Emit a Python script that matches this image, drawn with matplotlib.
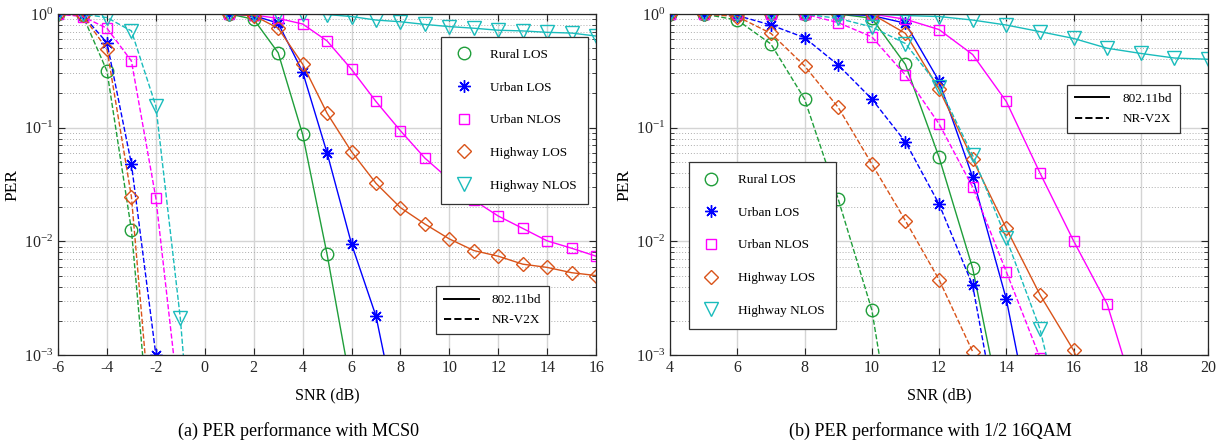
import numpy as np
import matplotlib.pyplot as plt
from matplotlib.lines import Line2D
from matplotlib.ticker import LogLocator, NullFormatter

plt.rcParams["font.family"] = ["Liberation Serif", "DejaVu Serif"]
plt.rcParams["mathtext.fontset"] = "stix"

# ---- (a) MCS0 ----
snr_a_nr = [-6, -5, -4, -3, -2, -1, 0]
snr_a_bd = [1, 2, 3, 4, 5, 6, 7, 8, 9, 10, 11, 12, 13, 14, 15, 16]

a_nr_rural_los = [1.0, 0.98, 0.315, 0.0126, 5e-5, np.nan, np.nan]
a_nr_urban_los = [1.0, 0.98, 0.56, 0.048, 1.0e-3, 1e-5, np.nan]
a_nr_urban_nlos = [1.0, 0.95, 0.75, 0.386, 0.024, 3e-4, np.nan]
a_nr_highway_los = [1.0, 0.98, 0.49, 0.0247, 8e-5, np.nan, np.nan]
a_nr_highway_nlos = [1.0, 1.0, 0.93, 0.71, 0.155, 0.0021, 5e-6]

a_bd_rural_los = [1.0, 0.9, 0.456, 0.0875, 0.0077, 5e-4, np.nan, np.nan,
                  np.nan, np.nan, np.nan, np.nan, np.nan, np.nan, np.nan, np.nan]
a_bd_urban_los = [1.0, 0.97, 0.83, 0.31, 0.06, 0.0095, 0.0022, 2e-4,
                  np.nan, np.nan, np.nan, np.nan, np.nan, np.nan, np.nan, np.nan]
a_bd_urban_nlos = [1.0, 0.98, 0.916, 0.817, 0.58, 0.326, 0.17, 0.094,
                   0.054, 0.035, 0.023, 0.0167, 0.013, 0.0101, 0.0087, 0.0074]
a_bd_highway_los = [1.0, 0.97, 0.75, 0.363, 0.134, 0.0615, 0.0324, 0.0198,
                    0.0142, 0.0105, 0.0083, 0.0074, 0.0063, 0.0059, 0.0053, 0.005]
a_bd_highway_nlos = [1.0, 1.0, 1.0, 1.0, 0.99, 0.95, 0.885, 0.855,
                     0.81, 0.775, 0.75, 0.72, 0.71, 0.69, 0.68, 0.64]

# ---- (b) 1/2 16QAM ----
snr_b = [4, 5, 6, 7, 8, 9, 10, 11, 12, 13, 14, 15, 16, 17, 18, 19, 20]

b_nr_rural_los = [1.0, 1.0, 0.885, 0.545, 0.179, 0.0236, 0.0025, 4e-5,
                  np.nan, np.nan, np.nan, np.nan, np.nan, np.nan, np.nan, np.nan, np.nan]
b_nr_urban_los = [1.0, 1.0, 0.97, 0.8, 0.62, 0.356, 0.179, 0.075, 0.0213,
                  0.0041, 1e-4, np.nan, np.nan, np.nan, np.nan, np.nan, np.nan]
b_nr_urban_nlos = [1.0, 1.0, 1.0, 1.0, 1.0, 0.84, 0.63, 0.29, 0.108,
                   0.03, 0.0054, 9.5e-4, np.nan, np.nan, np.nan, np.nan, np.nan]
b_nr_highway_los = [1.0, 1.0, 0.95, 0.676, 0.35, 0.151, 0.048, 0.0152, 0.0046,
                    0.00107, np.nan, np.nan, np.nan, np.nan, np.nan, np.nan, np.nan]
b_nr_highway_nlos = [1.0, 1.0, 1.0, 1.0, 1.0, 0.915, 0.77, 0.55, 0.23,
                     0.057, 0.0106, 0.0017, 1e-4, np.nan, np.nan, np.nan, np.nan]

b_bd_rural_los = [1.0, 1.0, 1.0, 1.0, 1.0, 1.0, 0.92, 0.36, 0.055, 0.0058,
                  2e-4, np.nan, np.nan, np.nan, np.nan, np.nan, np.nan]
b_bd_urban_los = [1.0, 1.0, 1.0, 1.0, 1.0, 1.0, 0.97, 0.83, 0.257, 0.0366,
                  0.0031, 1e-4, np.nan, np.nan, np.nan, np.nan, np.nan]
b_bd_urban_nlos = [1.0, 1.0, 1.0, 1.0, 1.0, 1.0, 1.0, 0.9, 0.73, 0.44,
                   0.17, 0.04, 0.0101, 0.0028, 3e-4, np.nan, np.nan]
b_bd_highway_los = [1.0, 1.0, 1.0, 1.0, 1.0, 1.0, 1.0, 0.676, 0.218, 0.0527,
                    0.013, 0.0034, 0.0011, 2e-4, np.nan, np.nan, np.nan]
b_bd_highway_nlos = [1.0, 1.0, 1.0, 1.0, 1.0, 1.0, 1.0, 0.97, 0.95, 0.885,
                     0.8, 0.7, 0.61, 0.5, 0.45, 0.41, 0.4]

scenarios = ["Rural LOS", "Urban LOS", "Urban NLOS", "Highway LOS", "Highway NLOS"]
colors = ["#1f9e3a", "#0000ff", "#ff00ff", "#d95319", "#19bcbc"]
markers = ["o", (8, 2, 0), "s", "D", "v"]
msizes = [9, 9, 7.5, 7.5, 9.5]


def style_axes(ax, xlim, xticks):
    ax.set_yscale("log")
    ax.set_xlim(*xlim)
    ax.set_ylim(1e-3, 1)
    ax.set_xticks(xticks)
    ax.set_xticklabels([str(t) for t in xticks])
    ax.yaxis.set_major_locator(LogLocator(base=10, numticks=10))
    ax.yaxis.set_minor_locator(LogLocator(base=10, subs=np.arange(2, 10), numticks=10))
    ax.yaxis.set_minor_formatter(NullFormatter())
    ax.grid(True, which="major", color="0.83", linewidth=1.0, linestyle="-")
    ax.grid(True, which="minor", axis="y", color="0.68", linewidth=0.7, linestyle=(0, (1, 2)))
    ax.set_axisbelow(True)
    ax.tick_params(which="both", direction="in", top=True, right=True,
                   labelsize=11.5, colors="0.15")
    ax.tick_params(which="major", length=5)
    ax.tick_params(which="minor", length=3)
    for s in ax.spines.values():
        s.set_color("0.15")
        s.set_linewidth(0.9)
    ax.set_xlabel("SNR (dB)", fontsize=11.5, labelpad=8)
    ax.set_ylabel("PER", fontsize=12.5, labelpad=2)


def plot_set(ax, x, series, ls):
    for y, c, m, ms in zip(series, colors, markers, msizes):
        ax.plot(x, y, color=c, linestyle=ls, linewidth=1.0, marker=m,
                markersize=ms, markerfacecolor="none", markeredgecolor=c,
                markeredgewidth=1.0)


def add_legends(ax, loc1, loc2):
    mh = [Line2D([], [], linestyle="none", marker=m, markersize=ms,
                 markerfacecolor="none", markeredgecolor=c, markeredgewidth=1.0)
          for c, m, ms in zip(colors, markers, msizes)]
    leg1 = ax.legend(mh, scenarios, loc="upper left", bbox_to_anchor=loc1,
                     fontsize=9.5, labelspacing=1.55, handlelength=1.6,
                     handletextpad=1.2, borderpad=0.9, fancybox=False,
                     edgecolor="0.2", framealpha=1, borderaxespad=0)
    leg1.get_frame().set_linewidth(0.9)
    ax.add_artist(leg1)
    lh = [Line2D([], [], color="k", linestyle="-", linewidth=1.4),
          Line2D([], [], color="k", linestyle="--", linewidth=1.4)]
    leg2 = ax.legend(lh, ["802.11bd", "NR-V2X"], loc="upper left",
                     bbox_to_anchor=loc2, fontsize=9.5, labelspacing=0.6,
                     handlelength=2.6, handletextpad=1.0, borderpad=0.6,
                     fancybox=False, edgecolor="0.2", framealpha=1,
                     borderaxespad=0)
    leg2.get_frame().set_linewidth(0.9)


fig = plt.figure(figsize=(12.22, 4.45), dpi=100)
ax1 = fig.add_axes([0.0475, 0.2022, 0.4403, 0.7663])
ax2 = fig.add_axes([0.5483, 0.2022, 0.4403, 0.7663])

plot_set(ax1, snr_a_bd, [a_bd_rural_los, a_bd_urban_los, a_bd_urban_nlos,
                         a_bd_highway_los, a_bd_highway_nlos], "-")
plot_set(ax1, snr_a_nr, [a_nr_rural_los, a_nr_urban_los, a_nr_urban_nlos,
                         a_nr_highway_los, a_nr_highway_nlos], "--")
style_axes(ax1, (-6, 16), list(range(-6, 17, 2)))
add_legends(ax1, (0.712, 0.933), (0.703, 0.202))

plot_set(ax2, snr_b, [b_bd_rural_los, b_bd_urban_los, b_bd_urban_nlos,
                      b_bd_highway_los, b_bd_highway_nlos], "-")
plot_set(ax2, snr_b, [b_nr_rural_los, b_nr_urban_los, b_nr_urban_nlos,
                      b_nr_highway_los, b_nr_highway_nlos], "--")
style_axes(ax2, (4, 20), list(range(4, 21, 2)))
add_legends(ax2, (0.035, 0.566), (0.738, 0.792))

fig.text(298 / 1222, 1 - 431 / 445, "(a) PER performance with MCS0",
         ha="center", va="center", fontsize=13)
fig.text(930 / 1222, 1 - 431 / 445, "(b) PER performance with 1/2 16QAM",
         ha="center", va="center", fontsize=13)

fig.savefig("out.png", dpi=100)
